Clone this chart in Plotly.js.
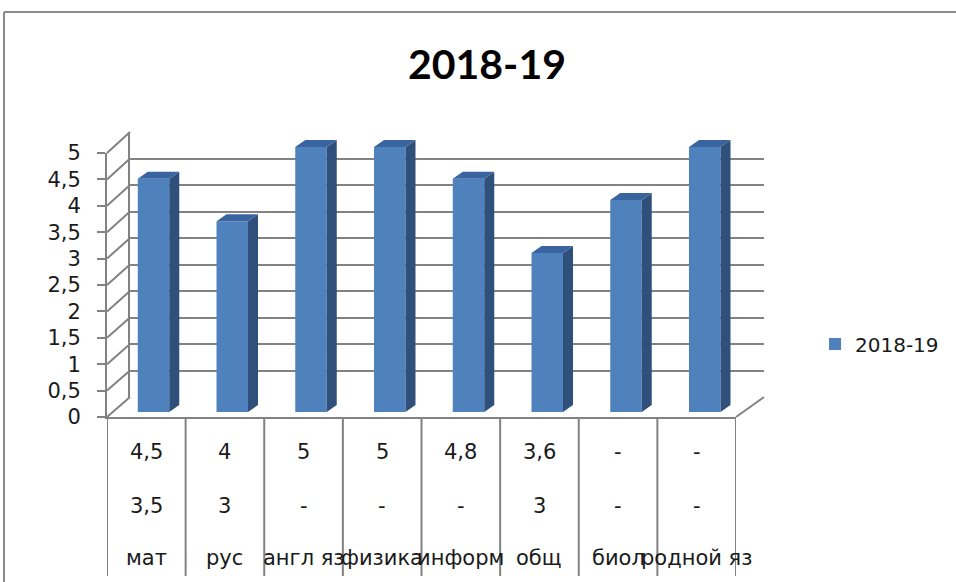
<!DOCTYPE html>
<html><head><meta charset="utf-8">
<script src="https://cdn.plot.ly/plotly-3.0.1.min.js"></script>
<style>html,body{margin:0;padding:0;background:#fff}#chart{width:956px;height:582px}</style>
</head><body><div id="chart"></div>
<script>
// ---- data ----
const categories = ['мат', 'рус', 'англ яз', 'физика', 'информ', 'общ', 'биол', 'родной яз'];
const values = [4.4, 3.6, 5, 5, 4.4, 3, 4, 5];
const tableRow1 = ['4,5', '4', '5', '5', '4,8', '3,6', '-', '-'];
const tableRow2 = ['3,5', '3', '-', '-', '-', '3', '-', '-'];
const yTickVals = [0, 0.5, 1, 1.5, 2, 2.5, 3, 3.5, 4, 4.5, 5];
const yTickText = ['0', '0,5', '1', '1,5', '2', '2,5', '3', '3,5', '4', '4,5', '5'];
const seriesName = '2018-19';
const titleText = '2018-19';

// ---- geometry (pixels) ----
const W = 956, H = 582;
const fx = p => p / W, fy = p => 1 - p / H;
const FRONT = {xl: 107, xr: 736, y0: 417, ytop: 153};
const BACK = {xl: 130, xr: 764, y0: 397, ytop: 132};
const BAR = {c0: 153.5, step: 78.75, y0: 412, ppu: 53, width: 0.40, dxPx: 10, dyPx: 7};
const yMax = 5, barRangeTop = 5.5;
const GRID = '#828282';
const FONT = '"DejaVu Sans", sans-serif';
const TITLE_FONT = 'Lato, "Open Sans", sans-serif';
const TXT = '#1a1a1a';

const idx = categories.map((c, i) => i);
const dx = BAR.dxPx / BAR.step, dy = BAR.dyPx / BAR.ppu, hw = BAR.width / 2;

const traces = [
  {x: [], y: [], xaxis: 'x', yaxis: 'y', showlegend: false, hoverinfo: 'skip'},
  {x: [], y: [], xaxis: 'x2', yaxis: 'y2', showlegend: false, hoverinfo: 'skip'},
  {type: 'bar', x: idx, y: values, width: BAR.width, name: seriesName,
   marker: {color: '#4f81bd', line: {width: 0}}, xaxis: 'x3', yaxis: 'y3', hoverinfo: 'skip'}
];
values.forEach((v, i) => {
  // side face
  traces.push({type: 'scatter', mode: 'lines', fill: 'toself', fillcolor: '#30507c',
    line: {width: 0, color: '#30507c'}, xaxis: 'x3', yaxis: 'y3', showlegend: false, hoverinfo: 'skip',
    x: [i + hw, i + hw + dx, i + hw + dx, i + hw, i + hw],
    y: [0, dy, v + dy, v, 0]});
  // top face
  traces.push({type: 'scatter', mode: 'lines', fill: 'toself', fillcolor: '#3a64a0',
    line: {width: 0, color: '#3a64a0'}, xaxis: 'x3', yaxis: 'y3', showlegend: false, hoverinfo: 'skip',
    x: [i - hw, i + hw, i + hw + dx, i - hw + dx, i - hw],
    y: [v, v, v + dy, v + dy, v]});
});

const shapes = [];
const yFront = v => FRONT.y0 - v * (FRONT.y0 - FRONT.ytop) / yMax;
const yBack = v => BACK.y0 - v * (BACK.y0 - BACK.ytop) / yMax;
yTickVals.forEach(v => {
  shapes.push({type: 'line', xref: 'paper', yref: 'paper',
    x0: fx(FRONT.xl), y0: fy(yFront(v)), x1: fx(BACK.xl), y1: fy(yBack(v)),
    line: {color: GRID, width: 2}});
});
shapes.push({type: 'line', xref: 'paper', yref: 'paper',
  x0: fx(FRONT.xr), y0: fy(FRONT.y0), x1: fx(BACK.xr), y1: fy(BACK.y0),
  line: {color: GRID, width: 2}});
for (let i = 0; i <= categories.length; i++) {
  shapes.push({type: 'line', xref: 'x2', yref: 'paper',
    x0: i - 0.5, x1: i - 0.5, y0: fy(FRONT.y0), y1: fy(576),
    line: {color: GRID, width: 2}});
}
// outer chart border
shapes.push({type: 'line', xref: 'paper', yref: 'paper', x0: fx(4), y0: fy(12), x1: 1.01, y1: fy(12), line: {color: '#8c8c8c', width: 2}});
shapes.push({type: 'line', xref: 'paper', yref: 'paper', x0: fx(4), y0: fy(12), x1: fx(4), y1: -0.01, line: {color: '#8c8c8c', width: 2}});

const annotations = [];
const rowY = [452, 506, 558];
[tableRow1, tableRow2, categories].forEach((row, r) => {
  row.forEach((t, i) => {
    annotations.push({text: t, x: i, xref: 'x2', y: fy(rowY[r]), yref: 'paper',
      xanchor: 'center', yanchor: 'middle', showarrow: false,
      font: {family: FONT, size: 21, color: TXT}});
  });
});

const layout = {
  width: W, height: H, autosize: false,
  margin: {l: 0, r: 0, t: 0, b: 0},
  paper_bgcolor: '#fff', plot_bgcolor: 'rgba(0,0,0,0)',
  title: {text: '<b>' + titleText + '</b>', x: fx(487), xanchor: 'center', y: fy(65), yanchor: 'middle',
    font: {family: TITLE_FONT, size: 41, color: '#000'}},
  xaxis: {domain: [fx(BACK.xl), fx(BACK.xr)], range: [0, 1], showgrid: false, zeroline: false,
    showticklabels: false, ticks: '', anchor: 'y', fixedrange: true},
  yaxis: {domain: [fy(BACK.y0), fy(BACK.ytop)], range: [0, yMax], tickvals: yTickVals,
    showticklabels: false, ticks: '', showgrid: true, gridcolor: GRID, gridwidth: 2, zeroline: false,
    showline: true, linecolor: GRID, linewidth: 2, anchor: 'x', fixedrange: true},
  xaxis2: {domain: [fx(FRONT.xl), fx(FRONT.xr)], range: [-0.5, categories.length - 0.5],
    showgrid: false, zeroline: false, showticklabels: false, ticks: '',
    showline: true, linecolor: GRID, linewidth: 2, anchor: 'y2', fixedrange: true},
  yaxis2: {domain: [fy(FRONT.y0), fy(FRONT.ytop)], range: [0, yMax], tickvals: yTickVals, ticktext: yTickText,
    ticks: 'outside', ticklen: 8, tickwidth: 2, tickcolor: GRID, showline: true, linecolor: GRID, linewidth: 2,
    showgrid: false, zeroline: false, ticklabelstandoff: 12,
    tickfont: {family: FONT, size: 21, color: TXT}, anchor: 'x2', fixedrange: true},
  xaxis3: {domain: [fx(BAR.c0 - 0.5 * BAR.step), fx(BAR.c0 + (categories.length - 0.5) * BAR.step)],
    range: [-0.5, categories.length - 0.5], visible: false, anchor: 'y3', fixedrange: true},
  yaxis3: {domain: [fy(BAR.y0), fy(BAR.y0 - barRangeTop * BAR.ppu)], range: [0, barRangeTop],
    visible: false, anchor: 'x3', fixedrange: true},
  showlegend: true,
  legend: {x: fx(815), y: fy(344), xanchor: 'left', yanchor: 'middle', bgcolor: 'rgba(0,0,0,0)',
    font: {family: FONT, size: 20, color: TXT}},
  shapes: shapes,
  annotations: annotations
};

Plotly.newPlot('chart', traces, layout, {staticPlot: true, displayModeBar: false});
</script>
</body></html>
